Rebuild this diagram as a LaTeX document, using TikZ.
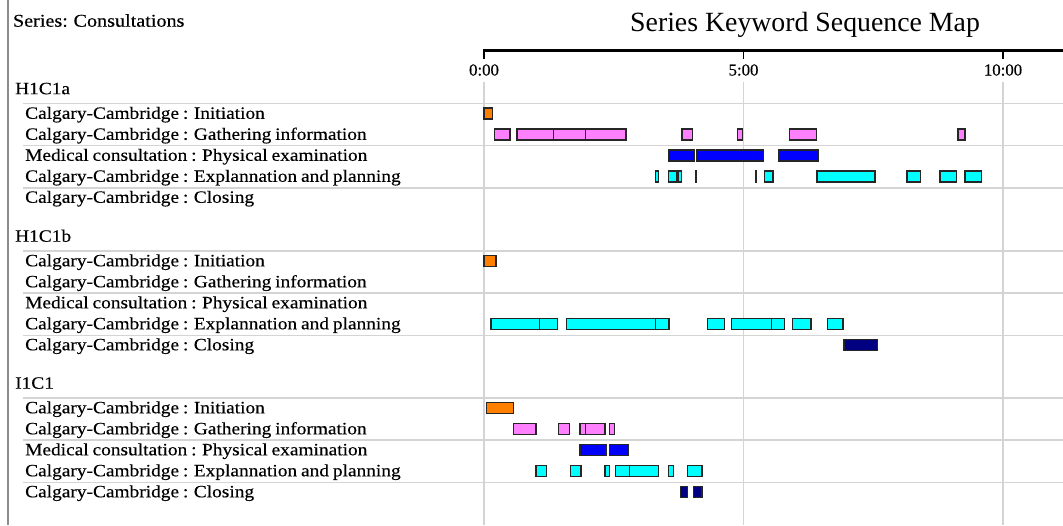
\documentclass[tikz,border=0pt]{standalone}
\usepackage{fontspec}
\usepackage{tikz}
\setmainfont{Liberation Serif}
\newfontfamily\rowfont[FakeStretch=1.12, FakeBold=0.35, WordSpace=0.8]{Liberation Serif}
\newfontfamily\tickfont[FakeBold=0.3]{Liberation Serif}
\definecolor{initc}{HTML}{FF8000}
\definecolor{gathc}{HTML}{FF80FF}
\definecolor{physc}{HTML}{0000FF}
\definecolor{explc}{HTML}{00FFFF}
\definecolor{closc}{HTML}{000080}
\definecolor{gridc}{HTML}{D4D4D4}

\tikzset{
  rowlabel/.style={anchor=base west, inner sep=0pt, font=\rowfont\fontsize{17.3}{17}\selectfont},
  ticklabel/.style={anchor=base, inner sep=0pt, font=\tickfont\fontsize{16.8}{17}\selectfont},
  bar/.style={draw=black!85, line width=1.3pt},
  gridline/.style={draw=gridc, line width=1.6pt},
}
% one row of bars: y, fill colour, start/end times in seconds
\newcommand{\barrow}[3]{\foreach \a/\b in {#3} \draw[bar, fill=#2] (\a,{#1-5.5}) rectangle (\b,{#1+5.5});}

\begin{document}
\begin{tikzpicture}[x=1pt, y=-1pt]
  \useasboundingbox (0,0) rectangle (1063,525);
  \draw [black!45, line width=1.3pt] (8,0) -- (8,525);

  % Titles
  \node (series) [rowlabel, font=\rowfont\fontsize{18}{18}\selectfont] at (12.8,26.7) {Series: Consultations};
  \node (title) [anchor=base west, inner sep=0pt, font=\fontsize{27.8}{28}\selectfont] at (630,31.7) {Series Keyword Sequence Map};

  % Row labels and horizontal grid
  \foreach \blk/\yy/\name in {a/113.5/H1C1a, b/261/H1C1b, c/408/I1C1} {
    \node (hd\blk) [rowlabel] at (15,{\yy-19.3}) {\name};
    \foreach \txt [count=\i] in {Calgary-Cambridge : Initiation,
        Calgary-Cambridge : Gathering information,
        Medical consultation : Physical examination,
        Calgary-Cambridge : Explannation and planning,
        Calgary-Cambridge : Closing}
      \node (lb\blk\i) [rowlabel] at (25,{\yy+21*(\i-1)+5.3}) {\txt};
    \foreach \dy in {-10, 32, 74.5}
      \draw [gridline] (23,{\yy+\dy}) -- (1063,{\yy+\dy});
  }

  \begin{scope}[shift={(484,0)}, x=0.865pt]
    % Time grid and axis
    \foreach \t/\lab in {0/0:00, 300/5:00, 600/10:00} {
      \draw [gridline, line width=1.8pt] (\t,82) -- (\t,525);
      \draw [line width=1.5pt] (\t,49) -- (\t,59);
      \node (tk\t) [ticklabel] at (\t,75.5) {\lab};
    }
    \draw [line width=3pt] (0,50) -- (669.4,50);

    % H1C1a
    \barrow{113.5}{initc}{0/10}
    \barrow{134.5}{gathc}{12/30, 38/80, 80/117, 117/164, 229/241, 293/299, 353/384, 548/556}
    \barrow{155.5}{physc}{213/243, 246/323, 341/387}
    \barrow{176.5}{explc}{198/202, 213/223, 225/228, 244.6/245.4, 313.6/314.4, 324/334, 385/452, 489/505, 527/546, 556/575}

    % H1C1b
    \barrow{261}{initc}{0/14}
    \barrow{324}{explc}{8/64, 64/85, 95/198, 198/214, 258/278, 286/332, 332/347, 357/378, 397/415}
    \barrow{345}{closc}{416/455}

    % I1C1
    \barrow{408}{initc}{3/34}
    \barrow{429}{gathc}{34/60, 86/99, 111/117, 117/140, 145/151}
    \barrow{450}{physc}{111/141, 145/167}
    \barrow{471}{explc}{60/72, 100/112, 140/145, 152/168, 168/202, 213/219, 235/252}
    \barrow{492}{closc}{227/235, 242/252}
  \end{scope}
\end{tikzpicture}
\end{document}
